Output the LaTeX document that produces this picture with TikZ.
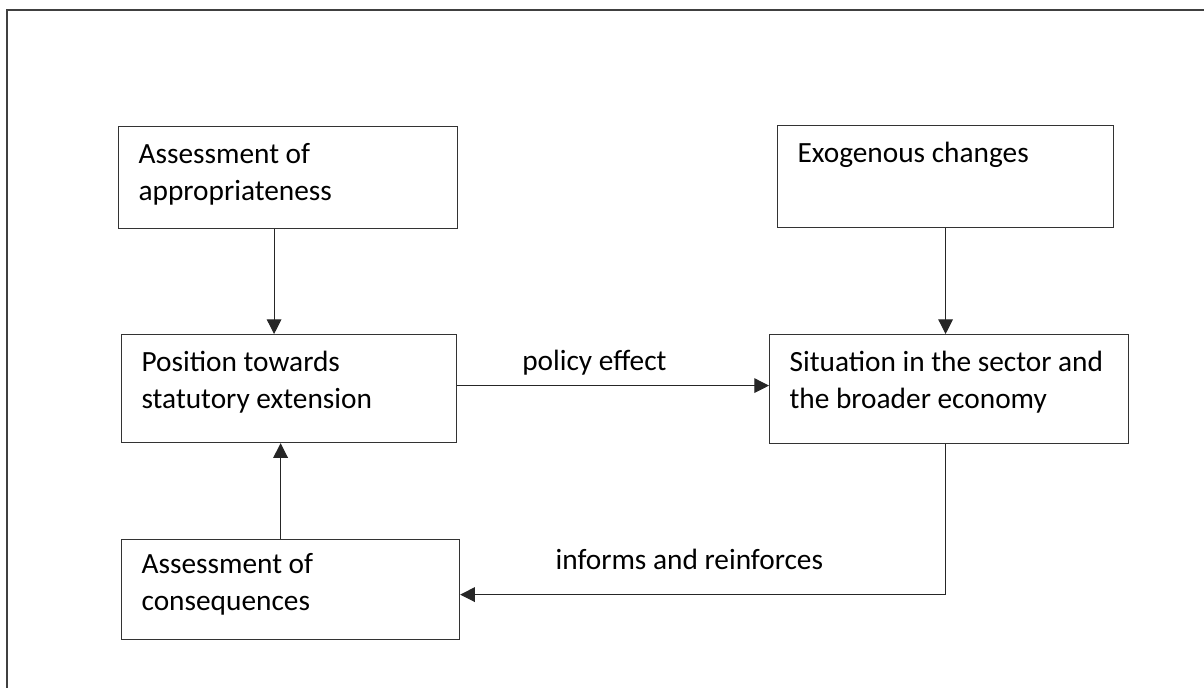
\documentclass[tikz,border=0pt]{standalone}
\usepackage{fontspec}
\setmainfont{Carlito}
\usetikzlibrary{calc,positioning}
\usetikzlibrary{arrows.meta}
\tikzset{>={Triangle[width=11pt,length=11pt]}}

\begin{document}
\begin{tikzpicture}[x=0.75pt,y=-0.75pt]
        \tikzstyle{bnode} = [draw=black!80, line width=0.9pt, rectangle, anchor=north west, align=flush left, inner xsep=15pt, inner ysep=0pt, text height=27.75pt, font=\fontsize{22}{27.75}\selectfont]
        \tikzstyle{lnode} = [inner sep=0pt, font=\fontsize{22}{27.75}\selectfont]
        \tikzstyle{conn} = [->, line width=0.8pt, draw=black!85]

        \useasboundingbox (0,0) rectangle (1204,688);
        % outer frame
        \draw[line width=1.6pt, black!75] (7,688) -- (7,10) -- (1204,10);

        \node[bnode, text width=224.25pt, text depth=48.75pt] (appr) at (118,126) {Assessment of\\appropriateness};
        \node[bnode, text width=222pt, text depth=48.75pt] (exo) at (777,125) {Exogenous changes};
        \node[bnode, text width=221.25pt, text depth=53.25pt] (pos) at (121,334) {Position towards\\statutory extension};
        \node[bnode, text width=239.25pt, text depth=54pt] (sit) at (769,334) {Situation in the sector and\\the broader economy};
        \node[bnode, text width=223.5pt, text height=25.5pt, text depth=49.5pt] (cons) at (121,539) {Assessment of\\consequences};

        \draw[conn] ([xshift=-10.5pt]appr.south) -- ([xshift=-10.5pt]appr.south |- pos.north);
        \draw[conn] (exo.south) -- (exo.south |- sit.north);
        \draw[conn] ([yshift=2.25pt]pos.east) -- ([yshift=2.25pt]pos.east -| sit.west)
                node[lnode, above=7.5pt, pos=0.44] {policy effect};
        \draw[conn] ([xshift=-7.5pt]cons.north) -- ([xshift=-7.5pt]cons.north |- pos.south);
        \draw[conn] ([xshift=-2.6pt]sit.south) |- ([yshift=-3.75pt]cons.east)
                node[lnode, above=18pt, pos=0.764] {informs and reinforces};
\end{tikzpicture}
\end{document}
